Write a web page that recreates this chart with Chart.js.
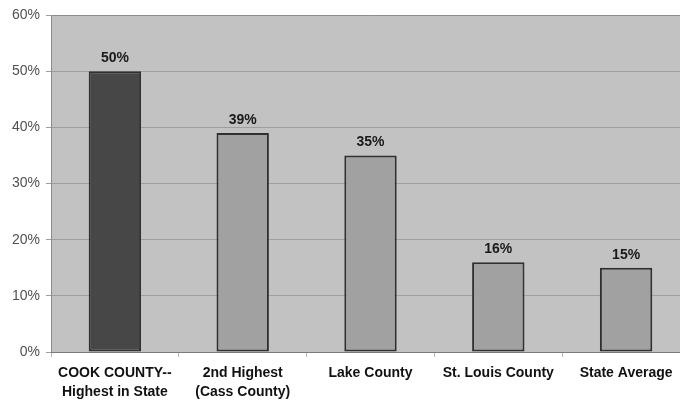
<!DOCTYPE html>
<html>
<head>
<meta charset="utf-8">
<script src="https://cdn.jsdelivr.net/npm/chart.js@4/dist/chart.umd.min.js"></script>
<style>
  html, body { margin: 0; padding: 0; background: #ffffff; overflow: hidden; }
  #wrap { width: 680px; height: 404px; overflow: hidden; position: relative; }
  #box { width: 692px; height: 404px; position: absolute; left: 0; top: 0; }
</style>
</head>
<body>
<div id="wrap"><div id="box"><canvas id="c"></canvas></div></div>
<script>
const categories = [
  ['COOK COUNTY--', 'Highest in State'],
  ['2nd Highest', '(Cass County)'],
  'Lake County',
  'St. Louis County',
  'State Average'
];
const values = [50, 39, 35, 16, 15];
const barColors = ['#474747', '#a1a1a1', '#a1a1a1', '#a1a1a1', '#a1a1a1'];
const yTicks = [0, 10, 20, 30, 40, 50, 60];

// Grey plot area with a thin frame
const plotBackground = {
  id: 'plotBackground',
  beforeDraw(chart) {
    const { ctx, chartArea: a } = chart;
    ctx.save();
    ctx.fillStyle = '#c2c2c2';
    ctx.fillRect(a.left, a.top, a.right - a.left, a.bottom - a.top);
    ctx.restore();
  },
  afterDatasetsDraw(chart) {
    const { ctx, chartArea: a } = chart;
    ctx.save();
    ctx.strokeStyle = '#8c8c8c';
    ctx.lineWidth = 1;
    ctx.beginPath();
    ctx.moveTo(a.left + 0.5, a.bottom);
    ctx.lineTo(a.left + 0.5, a.top + 0.5);
    ctx.lineTo(a.right, a.top + 0.5);
    ctx.stroke();
    ctx.restore();
  }
};

// Percentage labels above each bar
const valueLabels = {
  id: 'valueLabels',
  afterDatasetsDraw(chart) {
    const { ctx } = chart;
    const meta = chart.getDatasetMeta(0);
    ctx.save();
    ctx.font = 'bold 14px "Liberation Sans", Arial, sans-serif';
    ctx.fillStyle = '#1a1a1a';
    ctx.textAlign = 'center';
    ctx.textBaseline = 'bottom';
    meta.data.forEach((bar, i) => {
      ctx.fillText(values[i] + '%', bar.x, bar.y - 6);
    });
    ctx.restore();
  }
};

new Chart(document.getElementById('c'), {
  type: 'bar',
  data: {
    labels: categories,
    datasets: [{
      data: values,
      backgroundColor: barColors,
      borderColor: '#303030',
      borderWidth: 2,
      borderSkipped: false,
      categoryPercentage: 1,
      barPercentage: 0.41
    }]
  },
  options: {
    responsive: true,
    maintainAspectRatio: false,
    animation: false,
    layout: { padding: { top: 15, right: 2, left: 0, bottom: 0 } },
    plugins: { legend: { display: false }, tooltip: { enabled: false } },
    scales: {
      x: {
        grid: {
          offset: true,
          drawOnChartArea: false,
          drawTicks: true,
          tickLength: 5,
          color: '#b5b5b5'
        },
        border: { display: true, color: '#7a7a7a', width: 1 },
        ticks: {
          color: '#111111',
          font: { family: '"Liberation Sans", Arial, sans-serif', size: 14, weight: 'bold', lineHeight: 1.35 },
          padding: 7,
          maxRotation: 0,
          autoSkip: false
        },
        afterFit(scale) { scale.height = 52; }
      },
      y: {
        min: 0,
        max: 60,
        afterBuildTicks(scale) { scale.ticks = yTicks.map(v => ({ value: v })); },
        grid: {
          color: '#9e9e9e',
          lineWidth: 1,
          tickLength: 5,
          drawTicks: true
        },
        border: { display: false },
        ticks: {
          color: '#505050',
          font: { family: '"Liberation Sans", Arial, sans-serif', size: 14, weight: 'normal' },
          padding: 6,
          callback: v => v + '%'
        },
        afterFit(scale) { scale.width = 51; }
      }
    }
  },
  plugins: [plotBackground, valueLabels]
});
</script>
</body>
</html>
